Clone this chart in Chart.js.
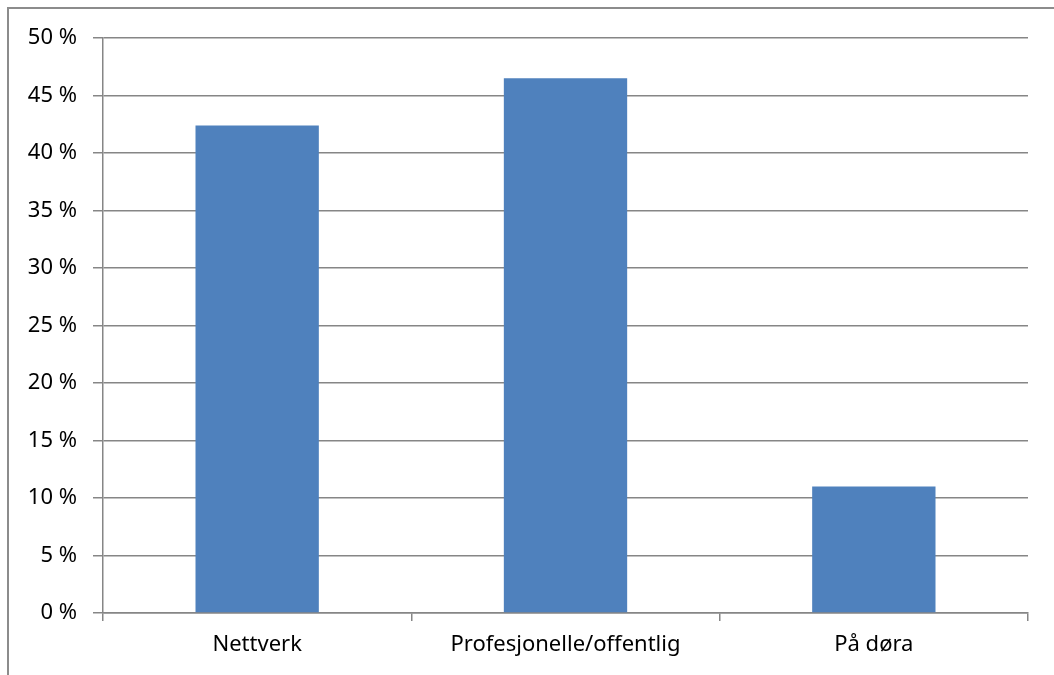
<!DOCTYPE html>
<html>
<head>
<meta charset="utf-8">
<script src="https://cdn.jsdelivr.net/npm/chart.js@4"></script>
<style>
  body { margin: 0; background: #fff; }
  #wrap { position: relative; width: 1054px; height: 675px; }
  #frame { position: absolute; left: 7px; top: 7px; right: -5px; bottom: -5px;
           border-top: 2px solid #8c8c8c; border-left: 2px solid #8c8c8c; }
  canvas { position: absolute; left: 0; top: 0; }
</style>
</head>
<body>
<div id="wrap">
  <div id="frame"></div>
  <canvas id="myChart" width="1054" height="675"></canvas>
</div>
<script>
// Chart values
const categories = ['Nettverk', 'Profesjonelle/offentlig', 'På døra'];
const shares = [42.4, 46.5, 11.0];
const yTicks = [0, 5, 10, 15, 20, 25, 30, 35, 40, 45, 50];

const gridGray = '#868686';
const labelFont = { family: 'Noto Sans', size: 22 };

const ctx = document.getElementById('myChart').getContext('2d');
new Chart(ctx, {
    type: 'bar',
    data: {
        labels: categories,
        datasets: [{
            data: shares,
            backgroundColor: '#4F81BD',
            categoryPercentage: 1,
            barPercentage: 0.4
        }]
    },
    options: {
        responsive: false,
        animation: false,
        layout: { padding: { top: 38, right: 26, left: 0, bottom: 0 } },
        plugins: {
            legend: { display: false },
            tooltip: { enabled: false }
        },
        scales: {
            x: {
                offset: true,
                grid: {
                    offset: true,
                    drawOnChartArea: false,
                    drawTicks: true,
                    tickLength: 8,
                    color: gridGray,
                    lineWidth: 1.5
                },
                border: { color: gridGray, width: 1.5 },
                ticks: {
                    color: '#000',
                    padding: 11,
                    font: labelFont
                },
                afterFit: axis => { axis.height = 62; }
            },
            y: {
                min: 0,
                max: 50,
                afterBuildTicks: axis => { axis.ticks = yTicks.map(v => ({ value: v })); },
                grid: {
                    color: gridGray,
                    lineWidth: 1.5,
                    tickLength: 10
                },
                border: { color: gridGray, width: 1.5 },
                ticks: {
                    color: '#000',
                    padding: 16,
                    font: labelFont,
                    callback: v => v + ' %'
                },
                afterFit: axis => { axis.width = 103; }
            }
        }
    }
});
</script>
</body>
</html>
